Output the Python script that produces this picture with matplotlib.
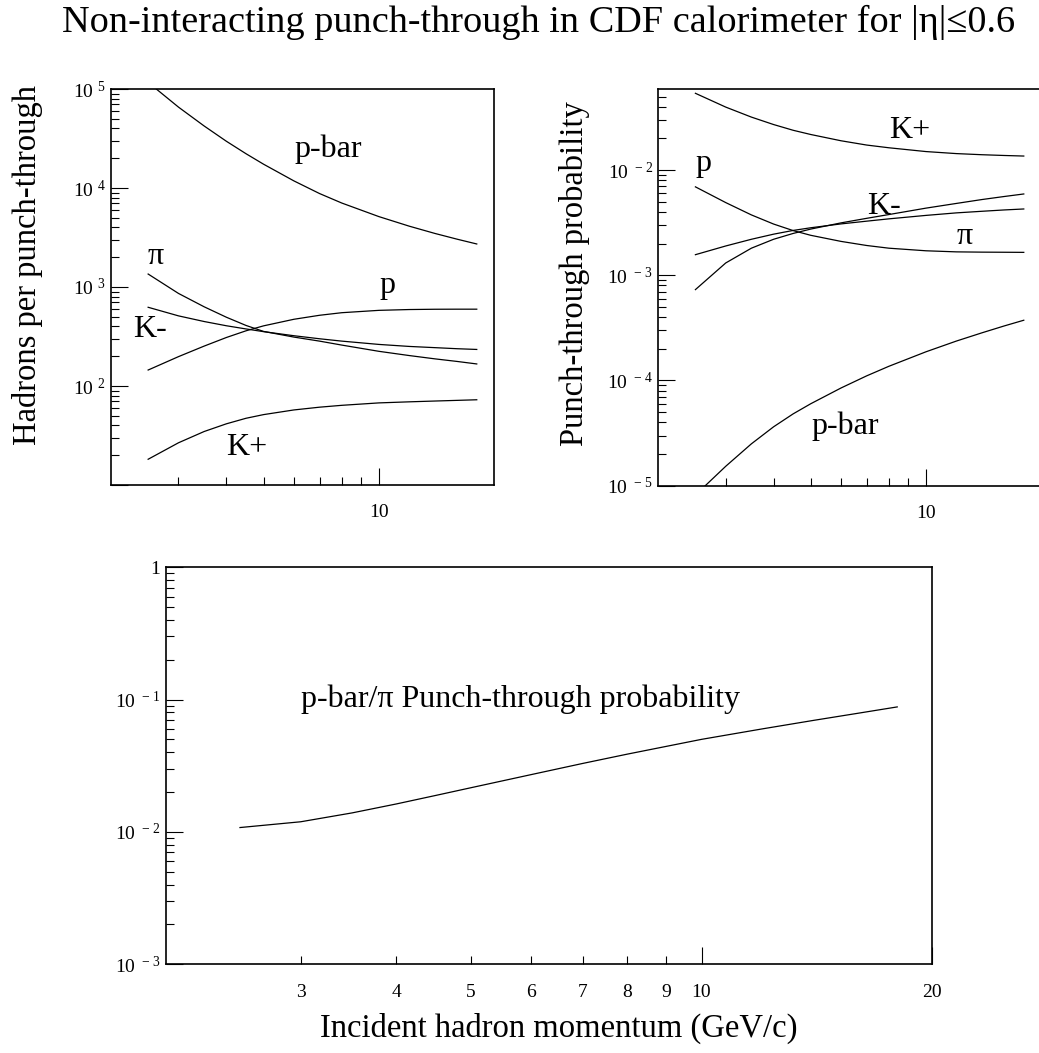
import numpy as np
import matplotlib
matplotlib.use('Agg')
import matplotlib.pyplot as plt
from matplotlib.ticker import LogLocator, NullFormatter, FuncFormatter

plt.rcParams['font.family'] = ['Liberation Serif', 'DejaVu Serif']
plt.rcParams['mathtext.fontset'] = 'custom'
plt.rcParams['mathtext.rm'] = 'Liberation Serif'

# incident hadron momentum (GeV/c)
momentum = [2.5, 3, 3.5, 4, 4.5, 5, 6, 7, 8, 10, 12, 14, 16, 18]

# hadrons per punch-through (top left)
per_pbar = [116700, 65600, 42300, 29650, 22200, 17400, 11800, 8790, 7050, 5140, 4115, 3475, 3040, 2720]
per_pi = [1352, 861, 631, 495, 409, 356, 312, 284, 259, 224, 203, 188, 177, 167]
per_km = [624, 511, 448, 406, 377, 354, 322, 300, 284, 263, 251, 244, 238, 234]
per_p = [145, 198, 253, 309, 361, 405, 472, 518, 550, 581, 592, 596, 597, 597]
per_kp = [18.2, 26.7, 34.7, 41.5, 47.2, 51.4, 57.3, 61.1, 63.8, 67.5, 69.2, 70.5, 71.6, 72.6]

# punch-through probability (top right)
prob_kp = [0.0537, 0.0397, 0.0319, 0.0271, 0.0239, 0.0218, 0.0190, 0.0173, 0.0163, 0.0150, 0.01435, 0.0140, 0.01377, 0.0136]
prob_p = [6.93e-3, 4.91e-3, 3.75e-3, 3.07e-3, 2.66e-3, 2.40e-3, 2.10e-3, 1.92e-3, 1.81e-3, 1.71e-3, 1.67e-3, 1.66e-3, 1.656e-3, 1.652e-3]
prob_km = [1.57e-3, 1.90e-3, 2.20e-3, 2.46e-3, 2.67e-3, 2.83e-3, 3.08e-3, 3.27e-3, 3.44e-3, 3.71e-3, 3.92e-3, 4.06e-3, 4.18e-3, 4.27e-3]
prob_pi = [7.31e-4, 1.31e-3, 1.81e-3, 2.20e-3, 2.50e-3, 2.75e-3, 3.15e-3, 3.48e-3, 3.78e-3, 4.35e-3, 4.82e-3, 5.25e-3, 5.61e-3, 5.93e-3]
prob_pbar = [8.15e-6, 1.53e-5, 2.50e-5, 3.63e-5, 4.82e-5, 6.01e-5, 8.49e-5, 1.107e-4, 1.365e-4, 1.875e-4, 2.37e-4, 2.84e-4, 3.30e-4, 3.74e-4]

# p-bar / pi ratio (bottom)
ratio = [0.0108, 0.01194, 0.01393, 0.01629, 0.01888, 0.02158, 0.02716, 0.03296, 0.03873, 0.0501, 0.0601, 0.0697, 0.0789, 0.0881]


def pow10(v, pos):
    e = int(round(np.log10(v)))
    if e == 0:
        return '1'
    return r'$\mathregular{10^{\ %d}}$' % e


def style_axis(ax, ylim):
    ax.set_xscale('log')
    ax.set_yscale('log')
    ax.set_xlim(2, 20)
    ax.set_ylim(*ylim)
    ax.yaxis.set_major_locator(LogLocator(base=10))
    ax.yaxis.set_minor_locator(LogLocator(base=10, subs=range(2, 10)))
    ax.yaxis.set_major_formatter(FuncFormatter(pow10))
    ax.yaxis.set_minor_formatter(NullFormatter())
    ax.xaxis.set_minor_formatter(NullFormatter())
    ax.tick_params(which='both', direction='in', top=False, right=False,
                   labelsize=14, width=0.8)
    ax.tick_params(which='major', length=12)
    ax.tick_params(which='minor', length=6)
    ax.tick_params(axis='y', which='both', pad=4)
    ax.tick_params(axis='x', which='both', pad=14)
    for s in ax.spines.values():
        s.set_linewidth(1.2)


fig = plt.figure(figsize=(10.39, 10.53), dpi=100)
W, H = 1039.0, 1053.0

# top left
ax1 = fig.add_axes([111 / W, 1 - 485 / H, 383.3 / W, 396 / H])
style_axis(ax1, (10, 1e5))
ax1.yaxis.set_major_formatter(FuncFormatter(lambda v, p: '' if v < 50 else pow10(v, p)))
ax1.set_xticks([10], ['10'])
ax1.set_xticks(range(3, 10), minor=True)
for y in [per_pbar, per_pi, per_km, per_p, per_kp]:
    ax1.plot(momentum, y, color='black', lw=0.9)
lab = dict(fontsize=23, ha='center', va='baseline')
ax1.text(7.36, 20400, 'p-bar', **lab)
ax1.text(2.62, 1694, 'π', **lab)
ax1.text(10.5, 875, 'p', **lab)
ax1.text(2.53, 315, 'K-', **lab)
ax1.text(4.53, 20.1, 'K+', **lab)

# top right
ax2 = fig.add_axes([658.3 / W, 1 - 485.7 / H, 383 / W, 396.7 / H])
style_axis(ax2, (1e-5, 0.059))
ax2.set_xticks([10], ['10'])
ax2.set_xticks(range(3, 10), minor=True)
for y in [prob_kp, prob_p, prob_km, prob_pi, prob_pbar]:
    ax2.plot(momentum, y, color='black', lw=0.9)
ax2.text(9.06, 0.02004, 'K+', **lab)
ax2.text(2.62, 0.00985, 'p', **lab)
ax2.text(7.76, 0.00386, 'K-', **lab)
ax2.text(12.6, 0.0020, 'π', **lab)
ax2.text(6.16, 3.1e-5, 'p-bar', **lab)

# bottom
ax3 = fig.add_axes([165.7 / W, 1 - 964.3 / H, 766.6 / W, 397 / H])
style_axis(ax3, (1e-3, 1))
ax3.set_xticks([10, 20], ['10', '20'])
ax3.set_xticks(range(3, 10), [str(i) for i in range(3, 10)], minor=True)
ax3.plot(momentum, ratio, color='black', lw=0.9)
ax3.text(3.0, 0.0885, 'p-bar/π Punch-through probability', fontsize=23,
         ha='left', va='baseline')

fig.text(28 / W, 1 - 265 / H, 'Hadrons per punch-through', rotation=90,
         ha='center', va='center', fontsize=23.5)
fig.text(574 / W, 1 - 273.5 / H, 'Punch-through probability', rotation=90,
         ha='center', va='center', fontsize=23.5)
fig.text(559 / W, 1 - 1037 / H, 'Incident hadron momentum (GeV/c)',
         ha='center', va='baseline', fontsize=23.5)
fig.text(539 / W, 1 - 32 / H,
         'Non-interacting punch-through in CDF calorimeter for |η|≤0.6',
         ha='center', va='baseline', fontsize=27.5)

fig.savefig('out.png', dpi=100)
